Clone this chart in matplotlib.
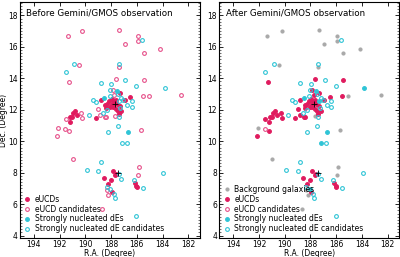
import matplotlib
matplotlib.use("Agg")
import matplotlib.pyplot as plt
from matplotlib.ticker import MultipleLocator

# positions of the objects (R.A., Dec. in degree)
ra = [191.36, 190.22, 187.37, 185.91, 185.91, 186.95, 185.45, 184.18, 190.48, 187.42,
      191.30, 187.65, 185.45, 185.56, 185.09, 182.55, 185.62, 190.87, 191.51, 187.42,
      188.79, 187.99, 186.90, 186.05, 183.84,
      189.42, 189.18, 189.72, 188.53, 188.82, 188.28, 188.43, 189.18, 190.79, 190.92,
      190.61, 191.15, 191.02, 191.20, 189.00, 190.32, 190.22, 191.51, 188.84, 188.51,
      192.09, 191.54, 191.25, 192.19, 190.99,
      189.90, 188.98, 188.79, 188.56, 187.86, 187.68, 187.60, 187.39, 188.25, 188.00,
      188.35, 188.22, 188.35, 188.07, 187.93, 187.81, 187.70, 187.21, 188.69, 186.25,
      186.18, 185.99, 186.05, 185.91, 185.84, 185.56, 183.94, 186.05, 188.27, 186.70,
      187.18, 186.77, 185.70,
      188.07, 187.86, 187.55, 187.34, 187.50, 187.21, 187.05, 186.51, 186.95, 186.41,
      186.74, 186.41, 188.46, 188.15, 187.95, 187.80, 187.62, 187.90, 187.72, 187.55,
      188.05, 187.85, 187.65, 187.50, 187.42, 187.30, 187.29, 187.42, 187.68, 188.40,
      188.30, 188.10, 187.35, 187.75, 187.20, 187.47, 188.59]
dec = [16.67, 16.99, 17.05, 16.69, 16.40, 16.16, 15.64, 15.85, 14.85, 14.69,
       13.78, 13.97, 13.87, 12.85, 12.85, 12.94, 16.42, 14.92, 14.39, 14.92,
       13.72, 13.63, 13.87, 13.49, 13.40,
       12.60, 12.51, 11.67, 12.73, 12.64, 12.35, 12.13, 11.46, 11.92, 11.80,
       11.65, 11.54, 11.54, 11.25, 12.03, 11.80, 11.48, 11.42, 11.65, 11.52,
       10.87, 10.80, 10.64, 10.36, 8.89,
       8.15, 8.09, 8.68, 7.68, 8.10, 7.83, 7.92, 7.94, 7.30, 7.54,
       6.88, 6.59, 7.10, 6.94, 6.80, 6.63, 6.42, 7.58, 5.68, 7.54,
       7.32, 7.09, 7.14, 7.83, 8.36, 7.00, 8.00, 5.27, 10.58, 10.58,
       9.90, 9.90, 10.72,
       13.27, 13.25, 13.19, 13.06, 13.00, 12.77, 12.65, 12.83, 12.60, 12.54,
       12.30, 12.18, 12.30, 12.55, 12.70, 12.55, 12.60, 12.35, 12.45, 12.38,
       12.18, 12.15, 12.05, 11.90, 11.75, 12.25, 12.13, 11.56, 11.63, 11.54,
       12.00, 12.85, 12.55, 12.95, 11.90, 10.99, 11.78]
# u = eUCD, uc = eUCD candidate, d = nucleated dE, dc = dE candidate, bg = background
before = ['uc', 'uc', 'uc', 'uc', 'uc', 'uc', 'uc', 'uc', 'uc', 'uc',
          'uc', 'uc', 'uc', 'uc', 'uc', 'uc', 'dc', 'dc', 'dc', 'dc',
          'dc', 'dc', 'dc', 'dc', 'dc',
          'dc', 'dc', 'dc', 'd', 'u', 'u', 'u', 'u', 'u', 'u',
          'u', 'u', 'u', 'u', 'uc', 'uc', 'uc', 'uc', 'uc', 'uc',
          'uc', 'uc', 'uc', 'uc', 'uc',
          'dc', 'dc', 'dc', 'u', 'u', 'u', 'u', 'dc', 'u', 'u',
          'uc', 'uc', 'dc', 'dc', 'u', 'dc', 'dc', 'dc', 'uc', 'dc',
          'u', 'u', 'u', 'uc', 'uc', 'dc', 'dc', 'dc', 'dc', 'd',
          'dc', 'dc', 'uc',
          'dc', 'uc', 'd', 'u', 'dc', 'dc', 'dc', 'u', 'u', 'dc',
          'dc', 'dc', 'u', 'u', 'u', 'u', 'u', 'u', 'u', 'u',
          'u', 'u', 'u', 'u', 'u', 'u', 'dc', 'dc', 'uc', 'uc',
          'dc', 'dc', 'dc', 'uc', 'u', 'dc', 'dc']
after = ['bg', 'bg', 'bg', 'bg', 'bg', 'bg', 'bg', 'bg', 'bg', 'bg',
         'u', 'u', 'u', 'u', 'bg', 'bg', 'dc', 'dc', 'dc', 'dc',
         'dc', 'dc', 'dc', 'dc', 'd',
         'dc', 'dc', 'dc', 'd', 'u', 'u', 'u', 'u', 'u', 'u',
         'u', 'u', 'u', 'u', 'u', 'u', 'u', 'u', 'u', 'u',
         'bg', 'uc', 'u', 'u', 'bg',
         'dc', 'dc', 'dc', 'u', 'u', 'u', 'u', 'dc', 'u', 'u',
         'bg', 'bg', 'dc', 'd', 'u', 'dc', 'dc', 'dc', 'bg', 'dc',
         'u', 'u', 'u', 'bg', 'bg', 'dc', 'dc', 'dc', 'dc', 'd',
         'd', 'dc', 'bg',
         'dc', 'u', 'd', 'u', 'dc', 'dc', 'dc', 'u', 'u', 'dc',
         'dc', 'dc', 'u', 'u', 'u', 'u', 'u', 'u', 'u', 'u',
         'u', 'u', 'u', 'u', 'u', 'u', 'dc', 'dc', 'bg', 'u',
         'dc', 'dc', 'd', 'u', 'u', 'dc', 'dc']

# M87 and M49
center_ra = [187.71, 187.44]
center_dec = [12.39, 8.00]

labels = {'bg': 'Background galaxies', 'u': 'eUCDs', 'uc': 'eUCD candidates',
          'd': 'Strongly nucleated dEs', 'dc': 'Strongly nucleated dE candidates'}
RED = '#e01a5e'
PINK = '#e6508a'
CYAN = '#2fc4d6'
GRAY = '#a9a9a9'
styles = {'bg': dict(color=GRAY, mfc=GRAY, mec=GRAY),
          'u': dict(color=RED, mfc=RED, mec=RED),
          'uc': dict(color=PINK, mfc='none', mec=PINK),
          'd': dict(color=CYAN, mfc=CYAN, mec=CYAN),
          'dc': dict(color=CYAN, mfc='none', mec=CYAN)}

plt.rcParams['font.size'] = 5.5
plt.rcParams['xtick.direction'] = 'in'
plt.rcParams['ytick.direction'] = 'in'
plt.rcParams['xtick.top'] = True
plt.rcParams['ytick.right'] = True


def panel(ax, cls, order, title):
    for c in order:
        x = [r for r, k in zip(ra, cls) if k == c]
        y = [d for d, k in zip(dec, cls) if k == c]
        ms = 2.2 if c == 'bg' else 2.7
        ax.plot(x, y, 'o', ms=ms, mew=0.8, ls='none', label=labels[c], **styles[c])
    ax.plot(center_ra, center_dec, '+', color='k', ms=5, mew=0.6)
    ax.set_xlim(195.1, 181.1)
    ax.set_ylim(3.85, 18.85)
    ax.xaxis.set_major_locator(MultipleLocator(2))
    ax.yaxis.set_major_locator(MultipleLocator(2))
    ax.yaxis.set_minor_locator(MultipleLocator(0.2))
    ax.tick_params(which='major', length=3, width=0.6, pad=1.5)
    ax.tick_params(which='minor', length=1.5, width=0.4)
    for s in ax.spines.values():
        s.set_linewidth(0.8)
    ax.set_xlabel('R.A. (Degree)', labelpad=0)
    ax.text(0.035, 0.952, title, transform=ax.transAxes, va='center', fontsize=6.3)
    ax.legend(loc='lower left', frameon=False, handlelength=0.8, handletextpad=0.6,
              labelspacing=0.12, borderaxespad=0.3, borderpad=0.3, fontsize=5.5)


def main():
    fig = plt.figure(figsize=(4, 2.57), dpi=100)
    ax1 = fig.add_axes([0.049, 0.074, 0.451, 0.918])
    ax2 = fig.add_axes([0.548, 0.074, 0.45, 0.918])
    panel(ax1, before, ['u', 'uc', 'd', 'dc'], 'Before Gemini/GMOS observation')
    panel(ax2, after, ['bg', 'u', 'uc', 'd', 'dc'], 'After Gemini/GMOS observation')
    ax1.set_ylabel('Dec. (Degree)')
    ax1.yaxis.set_label_coords(-0.066, 0.5)
    fig.savefig('out.png', dpi=100)


if __name__ == "__main__":
    main()
